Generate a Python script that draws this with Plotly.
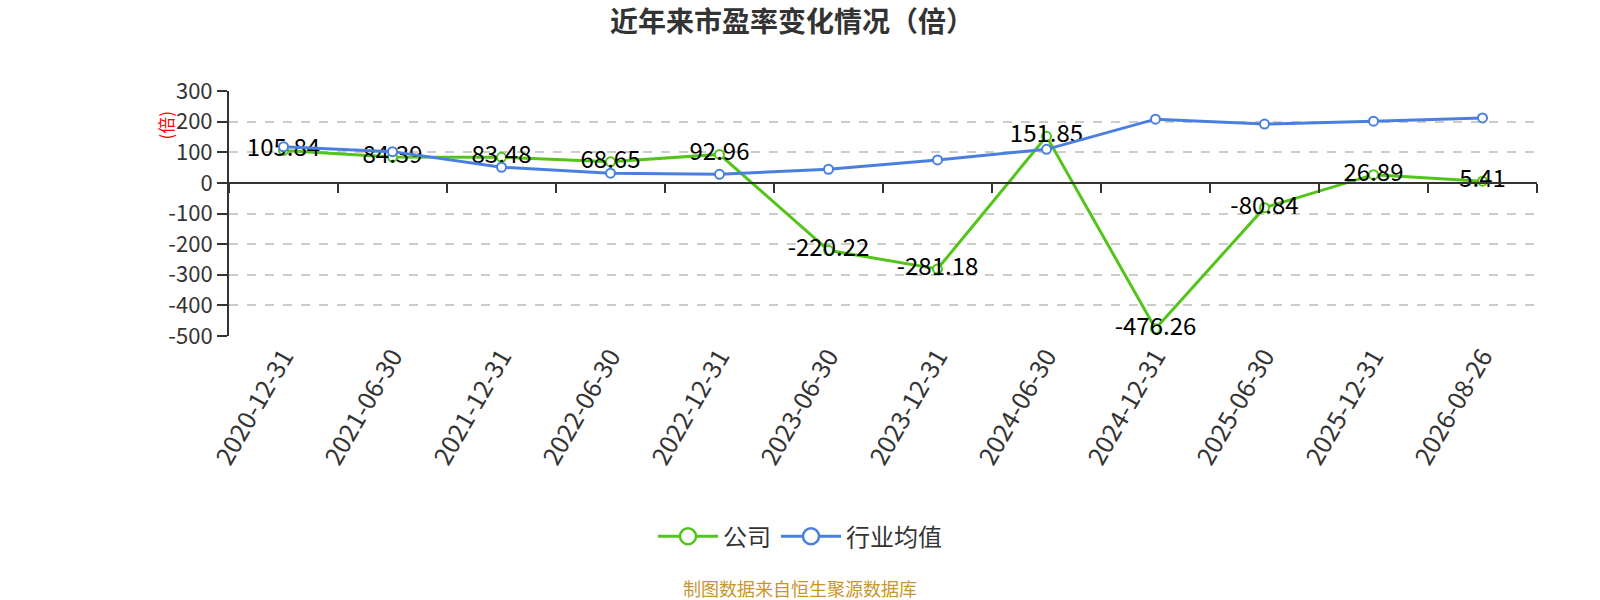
import plotly.graph_objects as go

# data
dates = ['2020-12-31', '2021-06-30', '2021-12-31', '2022-06-30', '2022-12-31', '2023-06-30',
         '2023-12-31', '2024-06-30', '2024-12-31', '2025-06-30', '2025-12-31', '2026-08-26']
company = [105.84, 84.39, 83.48, 68.65, 92.96, -220.22, -281.18, 151.85, -476.26, -80.84, 26.89, 5.41]
industry = [118, 102, 51, 31.5, 28, 44.5, 75, 109.5, 208, 192, 201.6, 212]
y_ticks = [300, 200, 100, 0, -100, -200, -300, -400, -500]
y_tick_text = ['300', '200', '100', '0', '-100', '-200', '-300', '-400', '-500']

green = '#52c41a'
blue = '#4a7fe0'
font_cjk = 'Noto Sans CJK SC'

W, H = 1600, 600
L, R, T, B = 229, 63, 90.5, 264
plot_w = W - L - R
plot_h = H - T - B


def px_x(x):
    return (x - L) / plot_w


def px_y(y):
    return (H - B - y) / plot_h


fig = go.Figure()

fig.add_trace(go.Scatter(
    x=dates, y=company, name='公司', mode='lines+markers+text', showlegend=False,
    line=dict(color=green, width=3),
    marker=dict(symbol='circle', size=9, color='white', line=dict(color=green, width=2)),
    text=[f'{v:.2f}' for v in company], textposition='middle center',
    textfont=dict(size=24, color='#000', family=font_cjk),
    xaxis='x', yaxis='y'))

fig.add_trace(go.Scatter(
    x=dates, y=industry, name='行业均值', mode='lines+markers', showlegend=False,
    line=dict(color=blue, width=3),
    marker=dict(symbol='circle', size=9, color='white', line=dict(color=blue, width=2)),
    xaxis='x2', yaxis='y'))

# legend entries with the larger symbols used in the reference legend
for name, col in [('公司', green), ('行业均值', blue)]:
    fig.add_trace(go.Scatter(
        x=[None], y=[None], name=name, mode='lines+markers',
        line=dict(color=col, width=3),
        marker=dict(symbol='circle', size=20, color='white', line=dict(color=col, width=2.5))))

fig.update_layout(
    width=W, height=H,
    paper_bgcolor='white', plot_bgcolor='white',
    margin=dict(l=L, r=R, t=T, b=B),
    font=dict(family=font_cjk, color='#333'),
    title=dict(text='<b>近年来市盈率变化情况（倍）</b>', x=792 / W, xref='container',
               xanchor='center', y=1 - 22.5 / H, yanchor='middle', yref='container',
               font=dict(size=28, color='#333', family=font_cjk)),
    showlegend=True,
    legend=dict(orientation='h', x=px_x(800), xanchor='center', y=px_y(537), yanchor='middle',
                font=dict(size=24, color='#333', family=font_cjk), itemwidth=60),
    xaxis=dict(type='category', range=[-0.5, 11.5], showline=False, showgrid=False,
               zeroline=False, ticks='', tickangle=-60,
               tickfont=dict(size=25, color='#333', family=font_cjk)),
    xaxis2=dict(type='category', matches='x', overlaying='x', anchor='free', position=0.625,
                showline=True, linecolor='#333', linewidth=2, ticks='outside',
                tickson='boundaries', ticklen=9, tickwidth=2, tickcolor='#333',
                showticklabels=False, showgrid=False, zeroline=False),
    yaxis=dict(range=[-500, 300], tickvals=y_ticks, ticktext=y_tick_text,
               showline=True, linecolor='#333', linewidth=2, ticks='outside', ticklen=10,
               tickwidth=2, tickcolor='#333', showgrid=True, gridcolor='#cccccc',
               griddash='dash', gridwidth=1.5, zeroline=False,
               tickfont=dict(size=22, color='#333', family=font_cjk)),
    annotations=[
        dict(text='(倍)', textangle=-90, x=px_x(165), xref='paper', y=px_y(125), yref='paper',
             xanchor='center', yanchor='middle', showarrow=False,
             font=dict(size=17, color='red', family=font_cjk)),
        dict(text='制图数据来自恒生聚源数据库', x=px_x(800), xref='paper', y=px_y(589),
             yref='paper', xanchor='center', yanchor='middle', showarrow=False,
             font=dict(size=18, color='#c9952b', family=font_cjk)),
    ],
)

# drop the default 8px body margin so the figure sits at the window's corner
fig.write_html('out.html', config={'displayModeBar': False},
               post_script="document.body.style.margin='0px';")
